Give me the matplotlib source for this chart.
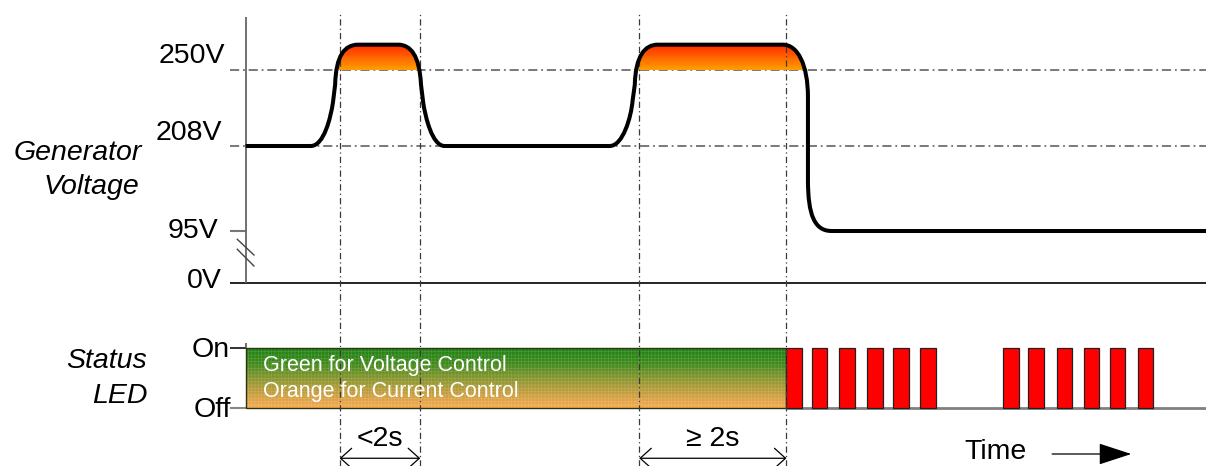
import numpy as np
import matplotlib.pyplot as plt
from matplotlib.path import Path
from matplotlib.patches import PathPatch, Rectangle
from matplotlib.colors import LinearSegmentedColormap

plt.rcParams['font.family'] = ['Liberation Sans', 'DejaVu Sans']
plt.rcParams['hatch.linewidth'] = 0.4

# voltage levels on the left axis
volt_ticks = [250, 208, 95, 0]
volt_labels = ['250V', '208V', '95V', '0V']

# generator voltage trace: time (s), volts, segment codes (M move, L line, C bezier)
wave_t = [0.00, 0.88, 1.06, 1.15, 1.18, 1.21, 1.22, 1.34, 1.52, 2.06, 2.23, 2.35,
          2.37, 2.40, 2.43, 2.52, 2.69, 4.92, 5.10, 5.21, 5.23, 5.26, 5.27, 5.40,
          5.57, 7.26, 7.46, 7.60, 7.60, 7.60, 7.60, 7.69, 7.92, 12.98]
wave_v = [208, 208, 208, 224, 232, 242, 258, 264, 264, 264, 264, 258,
          242, 232, 224, 208, 208, 208, 208, 224, 233, 242, 258, 264,
          264, 264, 264, 253, 235, 163, 116, 95, 95, 95]
wave_seg = 'ML' + 'CCCL' * 8
overvolt = 250

# time marks (s) for the guides and the duration arrows
marks_t = [1.27, 2.36, 5.32, 7.31]
span_labels = ['<2s', '\u2265 2s']

# status LED: steady until the last mark, then blinking red
led_steady_end = 7.31
blink_t = [7.31, 7.65, 8.02, 8.40, 8.75, 9.12, 10.24, 10.58, 10.96, 11.33, 11.68, 12.06]
blink_w = 0.21
led_labels = ['On', 'Off']
led_notes = ['Green for Voltage Control', 'Orange for Current Control']

t_end = 12.98

# broken voltage axis: piecewise linear scale (pixels above the 0V line)
v_knots = [-200, 0, 95, 208, 250, 400]
h_knots = [-109.5, 0, 52, 137, 213, 484.4]


def fwd(v):
    return np.interp(v, v_knots, h_knots)


def inv(h):
    return np.interp(h, h_knots, v_knots)


W, H = 1206, 466
fs = 20.5
fig = plt.figure(figsize=(W / 100, H / 100), dpi=100)
ax_v = fig.add_axes([0, 166 / H, 1, 300 / H])
ax_l = fig.add_axes([0, 0, 1, 166 / H])
ax_v.set_yscale('function', functions=(fwd, inv))
for ax in (ax_v, ax_l):
    ax.axis('off')

# guides and axis
dashdot = (0, (6, 2.5, 1.2, 2.5))
ax_v.hlines(volt_ticks[:2], -0.21, t_end, color='#555555', lw=1.1, ls=dashdot, zorder=1)
ax_v.hlines(volt_ticks[2], -0.21, 0, color='#777777', lw=1.5, zorder=1)
ax_v.hlines(volt_ticks[3], -0.21, t_end, color='black', lw=1.2, zorder=1)
ax_v.vlines(0, 0, inv(266), color='#666666', lw=1.3, zorder=1)
ax_v.plot([-0.113, 0.112], [79.8, 51.2], color='#444444', lw=1.0)
ax_v.plot([-0.113, 0.112], [61.6, 31.1], color='#444444', lw=1.0)

# waveform and the over-voltage fill
codes_map = {'M': Path.MOVETO, 'L': Path.LINETO, 'C': Path.CURVE4}
wave_codes = [codes_map[c] for c in wave_seg]
wave_xy = np.column_stack([wave_t, wave_v])
clip_path = Path(np.vstack([wave_xy, [[t_end, 0], [0, 0], [0, 0]]]),
                 wave_codes + [Path.LINETO, Path.LINETO, Path.CLOSEPOLY])
clip_patch = PathPatch(clip_path, transform=ax_v.transData, fc='none', ec='none')
ax_v.add_patch(clip_patch)
hot = LinearSegmentedColormap.from_list('hot', ['#ff9c00', '#ff5a00', '#ff1800'])
im = ax_v.imshow(np.linspace(0, 1, 100).reshape(-1, 1), cmap=hot, origin='lower',
                 extent=[0, t_end, overvolt, 266], aspect='auto', interpolation='bilinear', zorder=2)
im.set_clip_path(clip_patch)
ax_v.add_patch(PathPatch(Path(wave_xy, wave_codes), fill=False, lw=2.9, ec='black',
                         capstyle='butt', joinstyle='round', zorder=5))

# LED panel
led_cmap = LinearSegmentedColormap.from_list('led', ['#f8aa50', '#c59e3e', '#86962e', '#3e8a1c', '#1f8214'])
ax_l.imshow(np.linspace(0, 1, 100).reshape(-1, 1), cmap=led_cmap, origin='lower',
            extent=[0, led_steady_end, 0, 1], aspect='auto', zorder=2)
ax_l.add_patch(Rectangle((0, 0), led_steady_end, 1, fc='none', ec=(1, 1, 1, 0.18), lw=0,
                         hatch='+++++', zorder=3))
ax_l.add_patch(Rectangle((0, 0), led_steady_end, 1, fc='none', ec='#2b3412', lw=1.0, zorder=3))
ax_l.hlines(0, led_steady_end, t_end, color='#808080', lw=2.0, zorder=2)
ax_l.bar(blink_t, 1, width=blink_w, align='edge', color='#ff0000', edgecolor='#202020',
         lw=0.9, zorder=4)
ax_l.hlines(1, -0.21, 0, color='#222222', lw=1.3)
ax_l.vlines(0, 1, 1.083, color='#555555', lw=1.2)
ax_l.hlines(0, -0.21, 0, color='#888888', lw=1.5)

# vertical guides through both panels
dash_v = (0, (5, 2.5, 1, 2.5))
for t in marks_t:
    ax_v.axvline(t, 0, 0.96, color='#3a3a3a', lw=0.9, ls=dash_v, zorder=4)
    ax_l.axvline(t, 0, 1, color='#3a3a3a', lw=0.9, ls=dash_v, zorder=5)

# labels
label_offsets = [(-20.7, 7.3), (-24, 6), (-27.4, -7.3), (-24, -5.3)]
for v, lab, (dx, dy) in zip(volt_ticks, volt_labels, label_offsets):
    ax_v.annotate(lab, (0, v), xytext=(dx, dy), textcoords='offset pixels',
                  ha='right', va='baseline', fontsize=fs)
for lev, lab, (dx, dy) in zip([1, 0], led_labels, [(-16.1, -8.7), (-14.7, -8.7)]):
    ax_l.annotate(lab, (0, lev), xytext=(dx, dy), textcoords='offset pixels',
                  ha='right', va='baseline', fontsize=fs)

fig.text(141.5 / W, 1 - 160 / H, 'Generator', ha='right', va='baseline', fontsize=fs, style='italic')
fig.text(139 / W, 1 - 194.3 / H, 'Voltage', ha='right', va='baseline', fontsize=fs, style='italic')
fig.text(147.3 / W, 1 - 368.3 / H, 'Status', ha='right', va='baseline', fontsize=fs, style='italic')
fig.text(147.3 / W, 1 - 402.7 / H, 'LED', ha='right', va='baseline', fontsize=fs, style='italic')

for y, note in zip([0.617, 0.183], led_notes):
    ax_l.text(0.24, y, note, color='white', fontsize=15.5, va='baseline', zorder=6)

for (a, b), lab in zip([(marks_t[0], marks_t[1]), (marks_t[2], marks_t[3])], span_labels):
    ax_l.text((a + b) / 2, -0.633, lab, ha='center', va='baseline', fontsize=fs)
    ax_l.annotate('', xy=(a, -0.838), xytext=(b, -0.838),
                  arrowprops=dict(arrowstyle='<->,head_length=0.4,head_width=0.36',
                                  mutation_scale=20, shrinkA=0, shrinkB=0, lw=0.9, color='black'))

ax_l.text(9.72, -0.858, 'Time', va='baseline', fontsize=fs)
ax_l.annotate('', xy=(11.97, -0.767), xytext=(10.90, -0.767),
              arrowprops=dict(arrowstyle='-|>,head_length=1.04,head_width=0.34',
                              mutation_scale=20, shrinkA=0, shrinkB=0, lw=0.9, color='black'))

for ax in (ax_v, ax_l):
    ax.set_xlim(-3.32, t_end)
ax_v.set_ylim(inv(-17), inv(283))
ax_l.set_ylim(-0.967, 1.8)

fig.savefig('out.png', dpi=100)
